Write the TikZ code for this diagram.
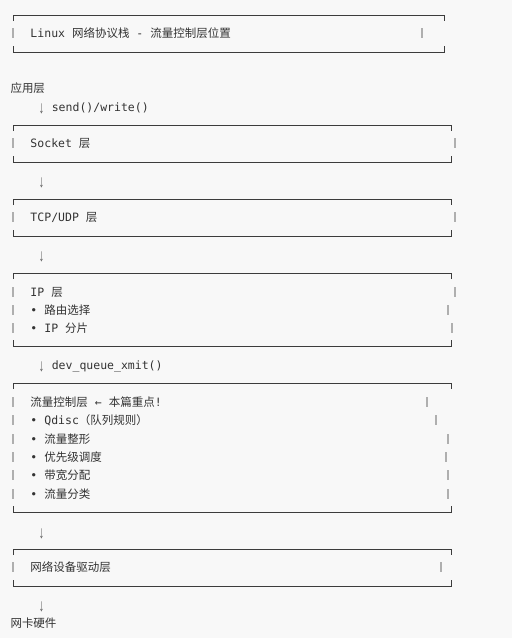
\documentclass[tikz,border=0pt]{standalone}
\usepackage{fontspec}
\usepackage{tikz}
\setmainfont{DejaVu Sans Mono}
\newfontfamily\cjk{Noto Sans CJK SC}
\newfontfamily\arr{Liberation Sans}
\definecolor{bg}{RGB}{248, 248, 248}
\definecolor{ink}{RGB}{51, 51, 51}
\definecolor{rule}{RGB}{60, 60, 60}
\definecolor{bar}{RGB}{175, 175, 175}
\definecolor{arrowc}{RGB}{100, 100, 100}
\newcommand{\cn}[1]{{\cjk #1}}
\newcommand{\dn}{\makebox[6.9pt][c]{\raisebox{-2pt}{\scalebox{1}[1.5]{\arr\textcolor{arrowc}{↓}}}}}

\begin{document}
\begin{tikzpicture}[x=1pt, y=-1pt, line width=1,
  txt/.style={anchor=base west, inner sep=0, text=ink, font=\fontsize{11.5}{14}\selectfont},
]

  \fill[bg] (0, 0) rectangle (512, 638);
  \useasboundingbox (0, 0) rectangle (512, 638);

  %
  \def\ytop{{15, 125, 199, 273, 383, 549}}
  \def\ybot{{52, 162, 236, 346, 512, 586}}
  \def\xend{{444, 451, 451, 451, 451, 451}}
  \foreach \n in {0, 1, ..., 5} {
    \pgfmathparse{\ytop[\n]}\edef\yt{\pgfmathresult}
    \pgfmathparse{\ybot[\n]}\edef\yb{\pgfmathresult}
    \pgfmathparse{\xend[\n]}\edef\xr{\pgfmathresult}
    \draw[rule] (13, \yt + 6) -- (13, \yt) -- (\xr, \yt) -- (\xr, \yt + 6);
    \draw[rule] (13, \yb - 6) -- (13, \yb) -- (\xr, \yb) -- (\xr, \yb - 6);
  }

  %
  \def\rowy{{33, 143, 217, 292, 310, 328, 402, 420, 439, 457, 475, 494, 567}}
  \def\barx{{422, 455, 455, 455, 448, 452, 427, 436, 448, 446, 448, 448, 441}}
  \foreach \n in {0, 1, ..., 12} {
    \pgfmathparse{\rowy[\n]}\edef\ry{\pgfmathresult}
    \pgfmathparse{\barx[\n]}\edef\bx{\pgfmathresult}
    \draw[bar, line width=1.5] (13, \ry - 5) -- (13, \ry + 5);
    \draw[bar, line width=1.5] (\bx, \ry - 5) -- (\bx, \ry + 5);
  }

  %
  \node[txt] (title) at (30, 37.5) {Linux \cn{网络协议栈} - \cn{流量控制层位置}};
  \node[txt] (app) at (10, 92.5) {\cn{应用层}};
  \node[txt] (send) at (37.5, 111.5) {\dn\ send()/write()};
  \node[txt] (sock) at (30, 147.5) {Socket \cn{层}};
  \node[txt] (down1) at (37.5, 185.5) {\dn};
  \node[txt] (tcp) at (30, 221.5) {TCP/UDP \cn{层}};
  \node[txt] (down2) at (37.5, 259.5) {\dn};
  \node[txt] (ip) at (30, 296.5) {IP \cn{层}};
  \node[txt] (ip1) at (30, 314.5) {• \cn{路由选择}};
  \node[txt] (ip2) at (30, 332.5) {• IP \cn{分片}};
  \node[txt] (xmit) at (37.5, 369.5) {\dn\ dev\_queue\_xmit()};
  \node[txt] (tc) at (30, 406.5) {\cn{流量控制层} ← \cn{本篇重点}!};
  \node[txt] (tc1) at (30, 424.5) {• Qdisc\cn{（队列规则）}};
  \node[txt] (tc2) at (30, 443.5) {• \cn{流量整形}};
  \node[txt] (tc3) at (30, 461.5) {• \cn{优先级调度}};
  \node[txt] (tc4) at (30, 479.5) {• \cn{带宽分配}};
  \node[txt] (tc5) at (30, 498.5) {• \cn{流量分类}};
  \node[txt] (down3) at (37.5, 536.5) {\dn};
  \node[txt] (drv) at (30, 571.5) {\cn{网络设备驱动层}};
  \node[txt] (down4) at (37.5, 609.5) {\dn};
  \node[txt] (nic) at (10, 627.5) {\cn{网卡硬件}};

\end{tikzpicture}
\end{document}
